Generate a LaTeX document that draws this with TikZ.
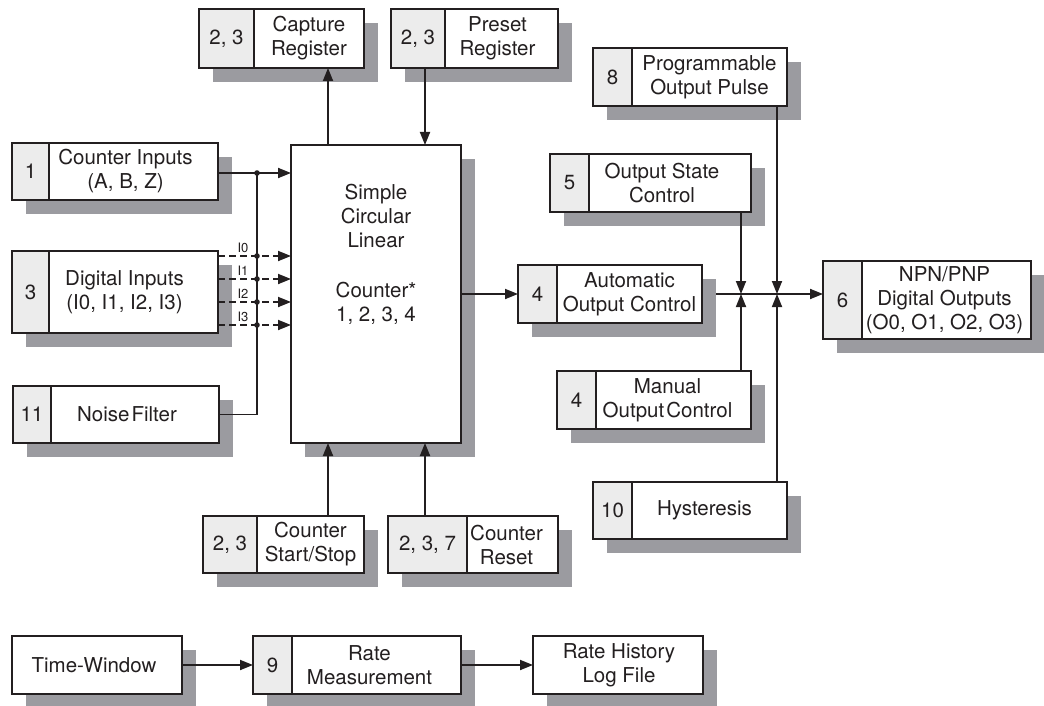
\documentclass[tikz,border=0pt]{standalone}
\usepackage{fontspec}
\setmainfont{TeX Gyre Heros}
\usetikzlibrary{arrows.meta,calc}
\definecolor{ink}{RGB}{35,31,32}
\definecolor{shc}{RGB}{155,155,160}
\definecolor{numc}{RGB}{236,236,236}
\tikzset{
  boxst/.style={draw=ink, line width=2.2pt, fill=white, inner sep=0pt, outer sep=0pt},
  numst/.style={draw=ink, line width=2.2pt, fill=numc, inner sep=0pt, outer sep=0pt, text=ink, font=\fontsize{20.5}{24}\selectfont},
  txtst/.style={align=center, inner sep=0pt, text=ink, font=\fontsize{20.5}{24}\selectfont},
  lbl/.style={inner sep=0pt, text=ink, font=\fontsize{13}{15}\selectfont},
  conn/.style={draw=ink, line width=1.8pt},
  arr/.style={conn, -{Triangle[length=13pt,width=10pt]}},
  dashline/.style={dash pattern=on 7pt off 4pt},
}
\newcommand\numbox[9]{%
  \fill[shc] ({#2+14},{#3+14}) rectangle ({#5+14},{#6+14});
  \node[boxst, minimum width={#5-#2}, minimum height={#6-#3}] (#1) at ({(#2+#5)/2},{(#3+#6)/2}) {};
  \node[numst, minimum width={#4-#2}, minimum height={#6-#3}, anchor=west] (#1-n) at (#1.west) {#7};
  \node[txtst] (#1-t) at ({(#4+#5)/2+#9},{(#3+#6)/2}) {#8};
}
\newcommand\plainbox[7]{%
  \fill[shc] ({#2+14},{#3+14}) rectangle ({#4+14},{#5+14});
  \node[boxst, minimum width={#4-#2}, minimum height={#5-#3}] (#1) at ({(#2+#4)/2},{(#3+#5)/2}) {};
  \node[txtst] (#1-t) at ({(#2+#4)/2+#7},{(#3+#5)/2}) {#6};
}
\begin{document}
\begin{tikzpicture}[x=1pt,y=-1pt]
\useasboundingbox (0,0) rectangle (1044,706);

% boxes
\numbox{cap}{199}{9}{254}{364}{68}{2, 3}{Capture\\Register}{0}
\numbox{pre}{391}{9}{445}{558}{68}{2, 3}{Preset\\Register}{-4}
\numbox{cin}{12}{143}{49}{218}{200}{1}{Counter Inputs\\(A, B, Z)}{-8}
\numbox{din}{12}{251}{49}{218}{333}{3}{Digital Inputs\\(I0, I1, I2, I3)}{-9}
\numbox{nf}{13}{386}{51}{219}{443}{11}{Noise\hspace{0.1em}Filter}{-8}
\plainbox{main}{291}{145}{461}{443}{}{0}
\node[txtst] (main-t) at (376,254) {Simple\\Circular\\Linear\\[26pt]Counter*\\1, 2, 3, 4};
\numbox{ss}{203}{516}{257}{364}{573}{2, 3}{Counter\\Start/Stop}{0}
\numbox{rst}{388}{516}{467}{558}{573}{2, 3, 7}{Counter\\Reset}{-6}
\numbox{auto}{518}{265}{557}{702}{323}{4}{Automatic\\Output Control}{0}
\numbox{pop}{593}{48}{632}{787}{106}{8}{Programmable\\Output Pulse}{0}
\numbox{osc}{550}{154}{589}{751}{212}{5}{Output State\\Control}{-8}
\numbox{man}{557}{371}{596}{751}{429}{4}{Manual\\Output\hspace{0.1em}Control}{-6}
\numbox{hys}{593}{482}{632}{787}{539}{10}{Hysteresis}{-5}
\numbox{npn}{823}{261}{862}{1031}{339}{6}{NPN/PNP\\Digital Outputs\\(O0, O1, O2, O3)}{-2}
\plainbox{tw}{12}{636}{182}{694}{Time-Window}{-3}
\numbox{rm}{253}{636}{292}{461}{694}{9}{Rate\\Measurement}{-7}
\plainbox{rh}{533}{636}{703}{694}{Rate History\\Log File}{1}

% registers and counter controls
\draw[arr] (main.north -| 328,0) -- (cap.south -| 328,0);
\draw[arr] (pre.south -| 425,0) -- (main.north -| 425,0);
\draw[arr] (ss.north -| 328,0) -- (main.south -| 328,0);
\draw[arr] (rst.north -| 425,0) -- (main.south -| 425,0);

% inputs
\coordinate (bus) at (257,173);
\draw[arr] (cin.east |- bus) -- (main.west |- bus);
\draw[conn] (nf.east) -| (bus);
\foreach \yy/\nm in {256/I0,279/I1,302/I2,325/I3}{
  \draw[arr,dashline] (din.east |- 0,\yy) -- (main.west |- 0,\yy);
  \node[lbl] (lab\nm) at (243,{\yy-8}) {\nm};
  \fill[ink] (bus |- 0,\yy) circle (2.8pt);
}
\fill[ink] (bus) circle (2.8pt);

% outputs
\coordinate (j1) at (741,294);
\coordinate (j2) at (777,294);
\draw[arr] (main.east |- auto.west) -- (auto.west);
\draw[arr] ([xshift=14pt]auto.east) -- (npn.west |- auto.east);
\draw[arr] (osc.south -| j1) -- (j1);
\draw[arr] (man.north -| j1) -- (j1);
\draw[arr] (pop.south -| j2) -- (j2);
\draw[arr] (hys.north -| j2) -- (j2);

% rate chain
\draw[arr] (tw.east) -- (rm.west);
\draw[arr] (rm.east) -- (rh.west);
\end{tikzpicture}
\end{document}
